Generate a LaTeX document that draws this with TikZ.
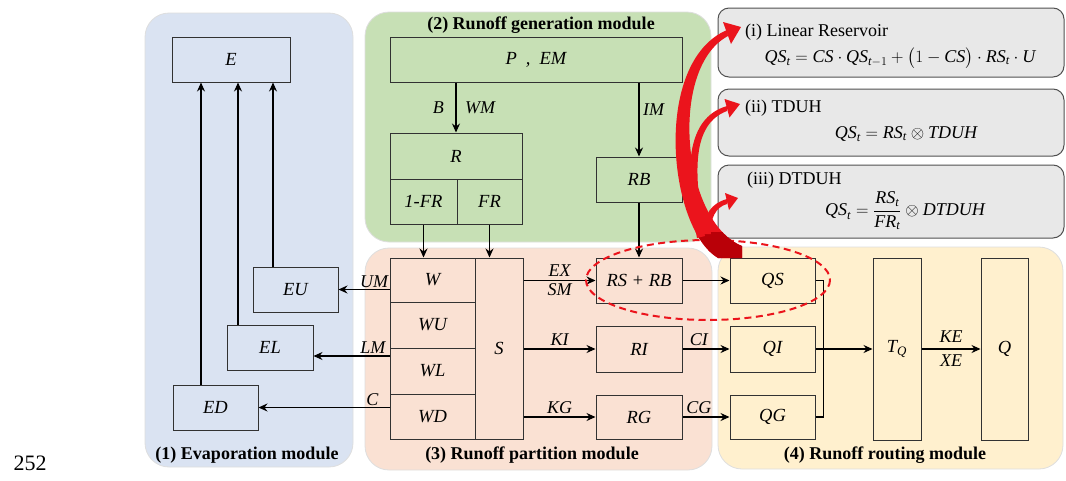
\documentclass[tikz,border=0pt]{standalone}
\usepackage{amsmath}
\usepackage{fontspec}
\setmainfont{Liberation Serif}
\usetikzlibrary{arrows.meta,calc}

\definecolor{evapbg}{RGB}{218,227,242}
\definecolor{genbg}{RGB}{199,224,181}
\definecolor{partbg}{RGB}{250,225,211}
\definecolor{routbg}{RGB}{255,240,206}
\definecolor{formbg}{RGB}{232,232,232}
\definecolor{formline}{RGB}{80,80,80}
\definecolor{boxline}{RGB}{50,50,50}
\definecolor{hl}{RGB}{235,20,28}
\definecolor{hldark}{RGB}{185,0,8}

\begin{document}
\begin{tikzpicture}[x=1pt,y=-1pt,
  module/.style={rounded corners=24pt, draw=black!13, line width=0.8pt},
  title/.style={font=\fontsize{18}{20}\selectfont\bfseries, inner sep=0pt},
  blk/.style={draw=boxline, line width=1pt, inner sep=0pt,
    font=\fontsize{18.5}{20}\selectfont\itshape},
  flow/.style={draw=black, line width=1.1pt, -{Stealth[length=9pt,width=8pt,inset=3pt]}},
  wire/.style={draw=black, line width=1.1pt},
  lbl/.style={font=\fontsize{18}{20}\selectfont\itshape, inner sep=1.5pt},
  formula/.style={rounded corners=11pt, fill=formbg, draw=formline, line width=1pt, inner sep=0pt},
  ftext/.style={font=\fontsize{18}{20}\selectfont, inner sep=0pt},
  hlring/.style={draw=hl, line width=2pt, dash pattern=on 7pt off 4.5pt},
]
\useasboundingbox (0,0) rectangle (1066,480);

% module panels
\path[module, fill=evapbg] (145,13) rectangle (353,467);
\path[module, fill=genbg] (365,12) rectangle (711,242);
\path[module, fill=partbg] (365,248) rectangle (712,470);
\path[module, fill=routbg] (718,247) rectangle (1063,469);

\node[title] (t1) at (247,455) {(1) Evaporation module};
\node[title] (t2) at (541,25) {(2) Runoff generation module};
\node[title] (t3) at (532,455) {(3) Runoff partition module};
\node[title] (t4) at (885,455) {(4) Runoff routing module};

\node[font=\fontsize{22}{24}\selectfont, inner sep=0pt] (pg) at (30,463) {252};

% routing alternatives
\node[formula, minimum width=346pt, minimum height=69pt] (lr) at (891,42.5) {};
\node[formula, minimum width=346pt, minimum height=67pt] (td) at (891,122.5) {};
\node[formula, minimum width=346pt, minimum height=73pt] (dtd) at (891,201.5) {};

\node[ftext, anchor=west] (lrh) at (745,32) {(i) Linear Reservoir};
\node[ftext] (lrf) at (900,58) {$\textit{QS}_{\textit{t}}=\textit{CS}\cdot\textit{QS}_{\textit{t}-1}+\bigl(1-\textit{CS}\bigr)\cdot\textit{RS}_{\textit{t}}\cdot\textit{U}$};
\node[ftext, anchor=west] (tdh) at (745,108) {(ii) TDUH};
\node[ftext] (tdf) at (906,134) {$\textit{QS}_{\textit{t}}=\textit{RS}_{\textit{t}}\otimes\textit{TDUH}$};
\node[ftext, anchor=west] (dtdh) at (747,180) {(iii) DTDUH};
\node[ftext] (dtdf) at (905,211) {$\textit{QS}_{\textit{t}}=\dfrac{\textit{RS}_{\textit{t}}}{\textit{FR}_{\textit{t}}}\otimes\textit{DTDUH}$};

% evaporation module
\node[blk, minimum width=118pt, minimum height=45pt] (E) at (231,59.5) {E};
\node[blk, minimum width=85pt, minimum height=45pt] (EU) at (295.5,289.5) {EU};
\node[blk, minimum width=86pt, minimum height=45pt] (EL) at (270,347.5) {EL};
\node[blk, minimum width=85pt, minimum height=45pt] (ED) at (215.5,407.5) {ED};

% runoff generation module
\node[blk, minimum width=292pt, minimum height=45pt] (PEM) at (536,59.5) {P\hspace{9pt},\hspace{9pt}EM};
\node[blk, minimum width=132pt, minimum height=46pt] (R) at (456,156) {R};
\node[blk, minimum width=67pt, minimum height=45pt] (FR1) at (423.5,201.5) {1-FR};
\node[blk, minimum width=65pt, minimum height=45pt] (FR) at (489.5,201.5) {FR};
\node[blk, minimum width=86pt, minimum height=45pt] (RB) at (639,179.5) {RB};

% runoff partition module
\node[blk, minimum width=85pt, minimum height=44pt] (W) at (432.5,280) {W};
\node[blk, minimum width=85pt, minimum height=46pt] (WU) at (432.5,325) {WU};
\node[blk, minimum width=85pt, minimum height=46pt] (WL) at (432.5,371) {WL};
\node[blk, minimum width=85pt, minimum height=45pt] (WD) at (432.5,416.5) {WD};
\node[blk, minimum width=48pt, minimum height=181pt] (S) at (499,348.5) {S};
\node[blk, minimum width=86pt, minimum height=45pt] (RSRB) at (639,280.5) {RS + RB};
\node[blk, minimum width=86pt, minimum height=46pt] (RI) at (639,349) {RI};
\node[blk, minimum width=86pt, minimum height=44pt] (RG) at (639,417) {RG};

% runoff routing module
\node[blk, minimum width=85pt, minimum height=45pt] (QS) at (772.5,280.5) {QS};
\node[blk, minimum width=85pt, minimum height=46pt] (QI) at (772.5,349) {QI};
\node[blk, minimum width=85pt, minimum height=44pt] (QG) at (772.5,417) {QG};
\node[blk, minimum width=48pt, minimum height=182pt] (TQ) at (897,349) {T\textsubscript{\textit{Q}}};
\node[blk, minimum width=47pt, minimum height=182pt] (Q) at (1004.5,349) {Q};

% evaporation fluxes
\draw[flow] ([xshift=-14.5pt]ED.north) -- ([xshift=-14.5pt]ED.north |- E.south);
\draw[flow] ([xshift=-32pt]EL.north) -- ([xshift=-32pt]EL.north |- E.south);
\draw[flow] ([xshift=-22.5pt]EU.north) -- ([xshift=-22.5pt]EU.north |- E.south);

\coordinate (lmin) at ([yshift=-8.5pt]EL.east);
\draw[flow] (EU.east -| W.west) -- node[lbl, above, pos=0.3] {UM} (EU.east);
\draw[flow] (lmin -| WL.west) -- node[lbl, above, pos=0.22] {LM} (lmin);
\draw[flow] (ED.east -| WD.west) -- node[lbl, above, pos=0.13] {C} (ED.east);

% generation fluxes
\draw[flow] (R.north |- PEM.south) -- node[lbl, left=10pt] {B} node[lbl, right=7pt] {WM} (R.north);
\draw[flow] (RB.north |- PEM.south) -- node[lbl, right=2pt, pos=0.37] {IM} (RB.north);
\draw[flow] (RB.south) -- (RSRB.north);
\draw[flow] (FR1.south) -- (FR1.south |- W.north);
\draw[flow] (FR.south) -- (FR.south |- S.north);

% partition fluxes
\draw[flow] (S.east |- RSRB.west) -- node[lbl, above=1.5pt] {EX} node[lbl, below=1.5pt] {SM} (RSRB.west);
\draw[flow] (S.east |- RI.west) -- node[lbl, above=1pt] {KI} (RI.west);
\draw[flow] (S.east |- RG.west) -- node[lbl, above=1pt] {KG} (RG.west);

% routing fluxes
\draw[flow] (RSRB.east) -- (QS.west);
\draw[flow] (RI.east) -- node[lbl, above=1pt, pos=0.35] {CI} (QI.west);
\draw[flow] (RG.east) -- node[lbl, above=1pt, pos=0.35] {CG} (QG.west);
\coordinate (join) at ([xshift=8pt]QI.east);
\draw[wire] (QS.east) -| (join);
\draw[wire] (QG.east) -| (join);
\draw[flow] (QI.east) -- (TQ.west);
\draw[flow] (TQ.east) -- node[lbl, above=4pt] {KE} node[lbl, below=4pt] {XE} (Q.west);

% highlighted surface runoff pair
\draw[hlring] (708,280) ellipse [x radius=122, y radius=40];

% curved pointers to the routing alternatives
\fill[hl] (718,258) .. controls (668,228) and (652,62) .. (727,30)
  -- (728,36) .. controls (668,68) and (682,222) .. (742,246) -- (742,258) -- cycle;
\begin{scope}
  \clip (680,232) rectangle (745,262);
  \fill[hldark] (718,258) .. controls (668,228) and (652,62) .. (727,30)
    -- (728,36) .. controls (668,68) and (682,222) .. (742,246) -- (742,258) -- cycle;
\end{scope}
\fill[hl] (741,27) -- (723,22) -- (731,44) -- cycle;

\fill[hl] (697,238) .. controls (684,170) and (686,118) .. (727,106)
  -- (727,111) .. controls (692,124) and (693,172) .. (705,236) -- cycle;
\fill[hl] (740,104) -- (724.5,99) -- (729.5,117.5) -- cycle;

\fill[hl] (704,234) .. controls (703,214) and (712,203) .. (727,199)
  -- (727,204) .. controls (716,207) and (710,218) .. (711,234) -- cycle;
\fill[hl] (738,198) -- (725,193) -- (729,210) -- cycle;
\end{tikzpicture}
\end{document}
